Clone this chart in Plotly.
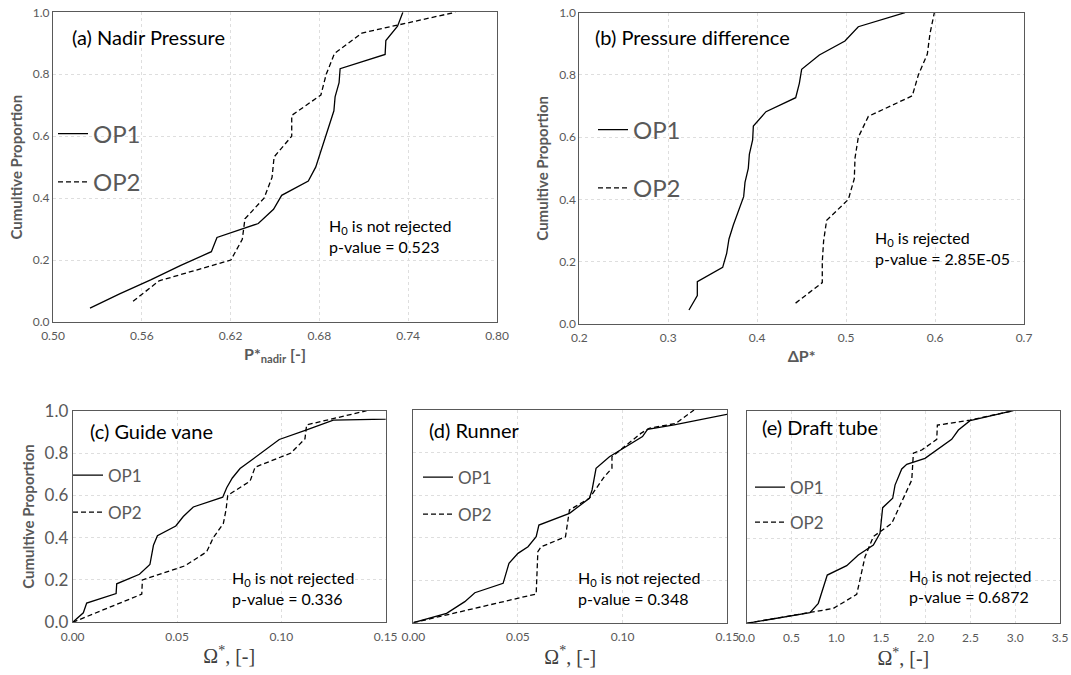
import plotly.graph_objects as go

W, H = 1071, 675

# ---------------- data ----------------
# (a) Nadir pressure
a_op1_x = [0.525, 0.545, 0.566, 0.586, 0.607, 0.6108, 0.6387, 0.649, 0.6545, 0.6725, 0.6775,
           0.6805, 0.6838, 0.6868, 0.6898, 0.6906, 0.6933, 0.694, 0.7244, 0.7249, 0.7328, 0.7364]
a_op1_y = [0.045, 0.091, 0.136, 0.182, 0.227, 0.273, 0.318, 0.364, 0.409, 0.455, 0.5,
           0.545, 0.591, 0.636, 0.682, 0.727, 0.773, 0.818, 0.864, 0.909, 0.955, 1.0]
a_op2_x = [0.5541, 0.5717, 0.6202, 0.6279, 0.6297, 0.6426, 0.648, 0.6494, 0.6613, 0.6613,
           0.681, 0.6846, 0.6902, 0.7087, 0.7718]
a_op2_y = [0.067, 0.133, 0.2, 0.267, 0.333, 0.4, 0.467, 0.533, 0.6, 0.667, 0.733, 0.8, 0.867, 0.933, 1.0]

# (b) Pressure difference
b_op1_x = [0.3233, 0.3327, 0.3327, 0.3612, 0.3657, 0.3683, 0.3732, 0.3795, 0.3848, 0.3863, 0.39,
           0.3912, 0.3949, 0.3957, 0.4099, 0.4433, 0.4474, 0.45, 0.4699, 0.4987, 0.5137, 0.5662]
b_op1_y = [0.045, 0.091, 0.136, 0.182, 0.227, 0.273, 0.318, 0.364, 0.409, 0.455, 0.5,
           0.545, 0.591, 0.636, 0.682, 0.727, 0.773, 0.818, 0.864, 0.909, 0.955, 1.0]
b_op2_x = [0.4432, 0.4732, 0.4732, 0.4747, 0.4781, 0.5025, 0.5092, 0.51, 0.5137, 0.525,
           0.5744, 0.5812, 0.5913, 0.5943, 0.5992]
b_op2_y = [0.067, 0.133, 0.2, 0.267, 0.333, 0.4, 0.467, 0.533, 0.6, 0.667, 0.733, 0.8, 0.867, 0.933, 1.0]

# (c) Guide vane
c_op1_x = [0.0, 0.0051, 0.0067, 0.0208, 0.0211, 0.032, 0.037, 0.0379, 0.0387, 0.0406, 0.0494, 0.053,
           0.0578, 0.0719, 0.0738, 0.0765, 0.0802, 0.0866, 0.093, 0.099, 0.1121, 0.1249, 0.35]
c_op1_y = [0.0, 0.045, 0.091, 0.136, 0.182, 0.227, 0.273, 0.318, 0.364, 0.409, 0.455, 0.5,
           0.545, 0.591, 0.636, 0.682, 0.727, 0.773, 0.818, 0.864, 0.909, 0.955, 1.0]
c_op2_x = [0.0, 0.0166, 0.0331, 0.0334, 0.0538, 0.0642, 0.0674, 0.0722, 0.0735, 0.0743, 0.085,
           0.0874, 0.1046, 0.1113, 0.1121, 0.1409]
c_op2_y = [0.0, 0.067, 0.133, 0.2, 0.267, 0.333, 0.4, 0.467, 0.533, 0.6, 0.667, 0.733, 0.8, 0.867, 0.933, 1.0]

# (d) Runner
d_op1_x = [0.0, 0.0159, 0.0246, 0.0294, 0.0429, 0.0457, 0.05, 0.0548, 0.0587, 0.06, 0.0746, 0.0841,
           0.0854, 0.0873, 0.0937, 0.1095, 0.1119, 0.1246, 0.16]
d_op1_y = [0.0, 0.044, 0.099, 0.141, 0.185, 0.279, 0.326, 0.357, 0.404, 0.459, 0.514, 0.585,
           0.624, 0.726, 0.78, 0.875, 0.909, 0.93, 1.0]
d_op2_x = [0.0, 0.0587, 0.0595, 0.0611, 0.0727, 0.0746, 0.0841, 0.0913, 0.0949, 0.0949, 0.1087,
           0.1127, 0.1254, 0.1341]
d_op2_y = [0.0, 0.135, 0.334, 0.357, 0.404, 0.53, 0.585, 0.687, 0.726, 0.78, 0.89, 0.914, 0.937, 1.0]

# (e) Draft tube
e_op1_x = [0.0, 0.707, 0.80, 0.90, 1.117, 1.247, 1.415, 1.489, 1.519, 1.631, 1.657, 1.732, 1.788,
           1.992, 2.29, 2.365, 2.495, 2.979]
e_op1_y = [0.0, 0.05, 0.094, 0.227, 0.271, 0.321, 0.368, 0.423, 0.544, 0.588, 0.65, 0.726, 0.748,
           0.776, 0.865, 0.909, 0.953, 1.0]
e_op2_x = [0.0, 0.707, 0.968, 1.229, 1.322, 1.415, 1.49, 1.62, 1.844, 1.862, 1.955, 2.123, 2.13,
           2.495, 2.979]
e_op2_y = [0.0, 0.05, 0.07, 0.136, 0.313, 0.408, 0.43, 0.47, 0.674, 0.8, 0.815, 0.865, 0.932,
           0.956, 1.0]

series_names = ["OP1", "OP2"]
panel_titles = ["(a) Nadir Pressure", "(b) Pressure difference", "(c) Guide vane",
                "(d) Runner", "(e) Draft tube"]
panel_tests = ["H<sub>0</sub> is not rejected<br>p-value = 0.523",
               "H<sub>0</sub> is rejected<br>p-value = 2.85E-05",
               "H<sub>0</sub> is not rejected<br>p-value = 0.336",
               "H<sub>0</sub> is not rejected<br>p-value = 0.348",
               "H<sub>0</sub> is not rejected<br>p-value = 0.6872"]
y_title = "Cumultive Proportion"
x_titles = ["<b>P*<sub>nadir</sub> [-]</b>", "<b>ΔP*</b>",
            "Ω<sup>*</sup>, [-]", "Ω<sup>*</sup>, [-]", "Ω<sup>*</sup>, [-]"]
x_ranges = [[0.5, 0.8], [0.2, 0.7], [0, 0.15], [0, 0.15], [0, 3.5]]
x_dticks = [0.06, 0.1, 0.05, 0.05, 0.5]
x_fmts = [".2f", ".1f", ".2f", ".2f", ".1f"]

# ---------------- layout helpers ----------------
FONT = "Lato"
GREY = "#595959"
GRID = "#dedede"


def px_x(p):
    return p / W


def px_y(p):
    return 1 - p / H


# plot-area boxes in pixels: left, right, top, bottom
boxes = [(53, 497, 12.3, 322), (579.3, 1024, 12.7, 324),
         (72.7, 385.7, 410.7, 622.3), (413.3, 727.3, 410, 622.7), (746.7, 1060, 410.7, 623.3)]

fig = go.Figure()

data = [
    (a_op1_x, a_op1_y, a_op2_x, a_op2_y),
    (b_op1_x, b_op1_y, b_op2_x, b_op2_y),
    (c_op1_x, c_op1_y, c_op2_x, c_op2_y),
    (d_op1_x, d_op1_y, d_op2_x, d_op2_y),
    (e_op1_x, e_op1_y, e_op2_x, e_op2_y),
]

# legend placement (left px, centre px, font size, gap)
legend_pos = [(53, 158, 24, 14), (593, 159, 24, 24), (68, 494, 17, 12), (418, 496, 17, 12),
              (750, 505, 17, 10)]

for i, (x1, y1, x2, y2) in enumerate(data):
    n = i + 1
    xa = "x" if n == 1 else f"x{n}"
    ya = "y" if n == 1 else f"y{n}"
    lg = "legend" if n == 1 else f"legend{n}"
    fig.add_trace(go.Scatter(x=x1, y=y1, mode="lines", name=series_names[0],
                             line=dict(color="black", width=1.3), xaxis=xa, yaxis=ya,
                             legend=lg, legendgroup=f"g{n}a"))
    fig.add_trace(go.Scatter(x=x2, y=y2, mode="lines", name=series_names[1],
                             line=dict(color="black", width=1.3, dash="5px,3px"), xaxis=xa, yaxis=ya,
                             legend=lg, legendgroup=f"g{n}b"))

layout = dict(width=W, height=H, margin=dict(l=0, r=0, t=0, b=0, autoexpand=False),
              paper_bgcolor="white", plot_bgcolor="white",
              font=dict(family=FONT, color=GREY), showlegend=True)

for i, (l, r, t, b) in enumerate(boxes):
    n = i + 1
    kx = "xaxis" if n == 1 else f"xaxis{n}"
    ky = "yaxis" if n == 1 else f"yaxis{n}"
    ya = "y" if n == 1 else f"y{n}"
    xa = "x" if n == 1 else f"x{n}"
    upper = i < 2
    layout[kx] = dict(domain=[px_x(l), px_x(r)], anchor=ya, range=x_ranges[i], dtick=x_dticks[i],
                      tick0=x_ranges[i][0], tickformat=x_fmts[i], showline=True, mirror=True,
                      linecolor=GREY, linewidth=1, showgrid=True, gridcolor=GRID, griddash="dot",
                      zeroline=False, ticks="outside", ticklen=3, tickcolor="rgba(0,0,0,0)",
                      automargin=False,
                      tickfont=dict(size=12, color=GREY, family=FONT),
                      title=dict(text=x_titles[i], standoff=6,
                                 font=dict(size=16 if upper else 20,
                                           color=GREY if upper else "#404040",
                                           family=FONT if upper else "Liberation Serif")))
    show_y = i in (0, 1, 2)
    layout[ky] = dict(domain=[px_y(b), px_y(t)], anchor=xa, range=[0, 1], dtick=0.2, tickformat=".1f",
                      showline=True, mirror=True, linecolor=GREY, linewidth=1,
                      showgrid=True, gridcolor=GRID, griddash="dot", zeroline=False,
                      showticklabels=show_y, ticks="", automargin=False,
                      tickfont=dict(size=12 if upper else 17, color=GREY, family=FONT),
                      title=dict(text=f"<b>{y_title}</b>" if show_y else "", standoff=6,
                                 font=dict(size=15, color=GREY, family=FONT)))

    lx, lyc, lfs, gap = legend_pos[i]
    lkey = "legend" if n == 1 else f"legend{n}"
    layout[lkey] = dict(x=px_x(lx), y=px_y(lyc), xanchor="left", yanchor="middle",
                        xref="paper", yref="paper", bgcolor="rgba(0,0,0,0)",
                        font=dict(size=lfs, color=GREY, family=FONT),
                        tracegroupgap=gap, borderwidth=0)

fig.update_layout(**layout)

# panel titles and test results
title_pos = [(70, 37), (593, 37), (88, 431), (426.7, 430), (760, 426.7)]
test_pos = [(327, 235.5), (873, 248), (230, 588), (576, 588), (906.7, 586)]
for i in range(5):
    tx, ty = title_pos[i]
    fig.add_annotation(text=panel_titles[i], x=px_x(tx), y=px_y(ty), xref="paper", yref="paper",
                       xanchor="left", yanchor="middle", showarrow=False,
                       font=dict(size=20, color="black", family=FONT))
    hx, hy = test_pos[i]
    fig.add_annotation(text=panel_tests[i], x=px_x(hx), y=px_y(hy), xref="paper", yref="paper",
                       xanchor="left", yanchor="middle", align="left", showarrow=False,
                       font=dict(size=16, color="black", family=FONT))

fig.write_html("out.html")
